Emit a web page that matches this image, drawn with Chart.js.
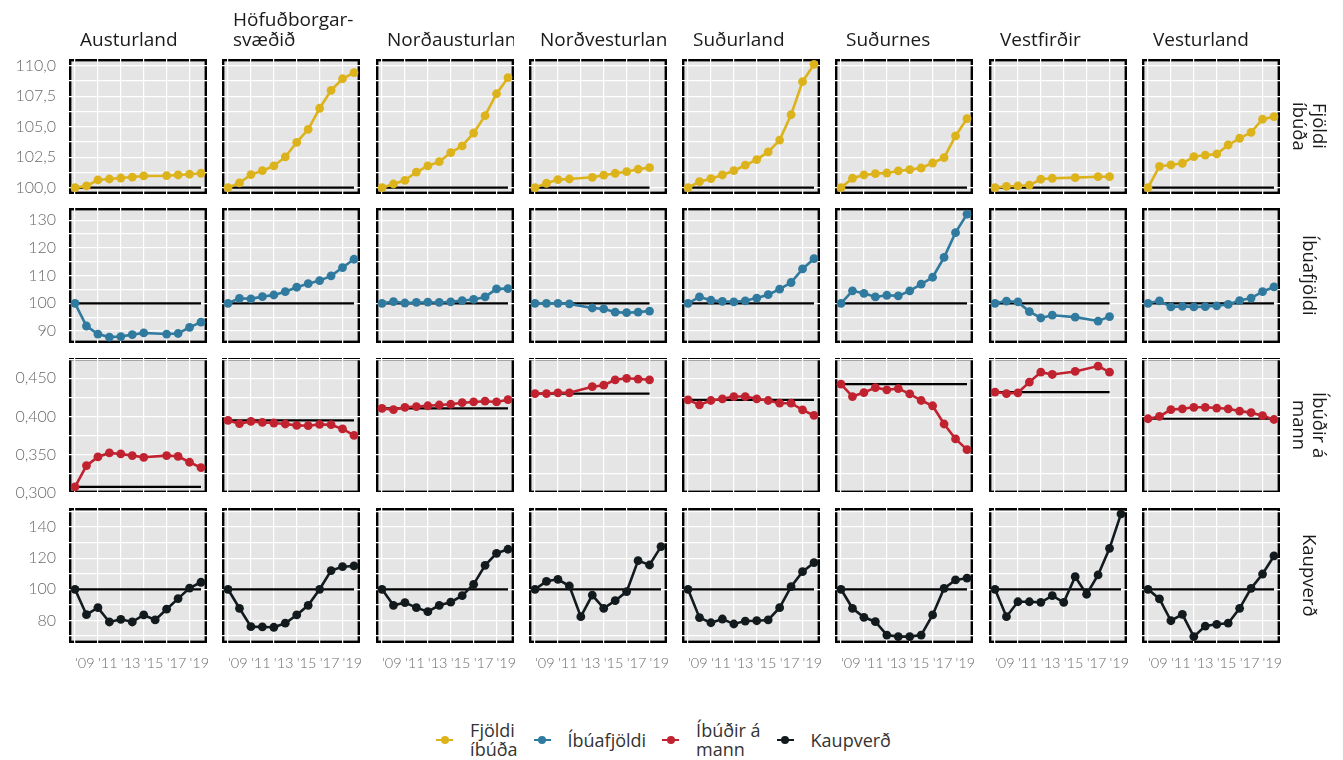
<!DOCTYPE html>
<html>
<head>
<meta charset="utf-8">
<script src="https://cdn.jsdelivr.net/npm/chart.js@4.4.1/dist/chart.umd.min.js"></script>
<style>
  body { margin: 0; background: #fff; }
  #wrap { position: relative; width: 1343px; height: 760px; overflow: hidden; font-family: 'Open Sans', sans-serif; }
  canvas { position: absolute; }
  .strip { position: absolute; top: 0; height: 49px; box-sizing: border-box; padding-left: 11px;
           display: flex; align-items: flex-end; overflow: hidden; white-space: pre;
           font-size: 19px; line-height: 19.5px; color: #1a1a1a; }
  .rowlab { position: absolute; left: 1287px; width: 46px; display: flex; align-items: center; justify-content: center; }
  .rowlab span { writing-mode: vertical-rl; white-space: pre; font-size: 18.5px; line-height: 19.5px; color: #1a1a1a; text-align: center; }
  #legend { position: absolute; top: 721px; left: -8px; width: 1343px; display: flex; justify-content: center; align-items: center; }
  .item { display: flex; align-items: center; margin: 0 8px; }
  .mk { display: inline-block; width: 17px; height: 2.5px; position: relative; margin-right: 17px; }
  .mk i { position: absolute; left: 4.5px; top: -3px; width: 8px; height: 8px; border-radius: 50%; }
  .lt { white-space: pre; font-size: 18px; line-height: 19px; color: #333; }
</style>
</head>
<body>
<div id="wrap"></div>
<script>
// ---- data ----
const years = [2009, 2010, 2011, 2012, 2013, 2014, 2015, 2016, 2017, 2018, 2019, 2020];
const regionTitles = ['Austurland', 'Höfuðborgar-\nsvæðið', 'Norðausturland', 'Norðvesturland',
                      'Suðurland', 'Suðurnes', 'Vestfirðir', 'Vesturland'];
const measureLabels = ['Fjöldi\níbúða', 'Íbúafjöldi', 'Íbúðir á\nmann', 'Kaupverð'];
const measureColors = ['#DDB31C', '#2F7A9E', '#C1222F', '#121A1D'];

// one row per region, one value per year (null = no value that year)
const fjoldiIbuda = [
  [100, 100.14, 100.63, 100.71, 100.79, 100.87, 100.96, null, 100.98, 101.04, 101.1, 101.18],
  [100, 100.39, 101.07, 101.39, 101.78, 102.52, 103.72, 104.78, 106.51, 107.98, 108.93, 109.43],
  [100, 100.3, 100.6, 101.28, 101.78, 102.13, 102.87, 103.42, 104.48, 105.9, 107.7, 109.02],
  [100, 100.36, 100.66, 100.71, null, 100.85, 101.02, 101.18, 101.31, 101.51, 101.64, null],
  [100, 100.49, 100.74, 101.04, 101.39, 101.84, 102.3, 102.93, 103.9, 105.98, 108.69, 110.11],
  [100, 100.77, 101.04, 101.15, 101.2, 101.37, 101.48, 101.61, 102.02, 102.46, 104.24, 105.66],
  [100, 100.11, 100.14, 100.2, 100.69, 100.77, null, 100.82, null, 100.9, 100.9, null],
  [100, 101.75, 101.86, 102.0, 102.54, 102.66, 102.76, 103.5, 104.05, 104.54, 105.61, 105.82]
];
const ibuafjoldi = [
  [100, 91.8, 88.9, 87.8, 88.0, 88.7, 89.3, null, 88.9, 89.1, 91.3, 93.2],
  [100, 101.8, 101.6, 102.4, 103.0, 104.2, 105.8, 107.1, 108.2, 109.9, 112.9, 115.9],
  [100, 100.6, 100.1, 100.3, 100.4, 100.3, 100.5, 101.0, 101.4, 102.3, 105.2, 105.3],
  [100, 100, 100, 99.8, null, 98.3, 98.0, 96.8, 96.6, 96.8, 97.2, null],
  [100, 102.3, 101.1, 100.7, 100.5, 100.9, 101.9, 103.1, 105.1, 107.5, 112.4, 116.1],
  [100, 104.5, 103.6, 102.3, 102.9, 102.7, 104.5, 106.9, 109.4, 116.6, 125.5, 132.2],
  [100, 100.8, 100.5, 97.0, 94.7, 95.7, null, 95.0, null, 93.6, 95.2, null],
  [100, 100.9, 98.7, 98.9, 98.7, 98.8, 99.1, 99.6, 101.0, 101.9, 104.2, 105.9]
];
const ibudirAMann = [
  [0.3078, 0.3356, 0.347, 0.3522, 0.3509, 0.3487, 0.3465, null, 0.3487, 0.3478, 0.340, 0.333],
  [0.3948, 0.3905, 0.3935, 0.3922, 0.3914, 0.3901, 0.3883, 0.3879, 0.3896, 0.3892, 0.3836, 0.3752],
  [0.4105, 0.409, 0.412, 0.413, 0.414, 0.415, 0.416, 0.418, 0.419, 0.420, 0.419, 0.422],
  [0.430, 0.430, 0.431, 0.431, null, 0.439, 0.441, 0.448, 0.450, 0.449, 0.448, null],
  [0.4218, 0.4153, 0.4209, 0.4231, 0.4261, 0.4261, 0.4231, 0.4209, 0.4174, 0.4174, 0.4087, 0.4013],
  [0.4423, 0.4261, 0.4313, 0.4379, 0.4349, 0.4366, 0.4296, 0.4209, 0.414, 0.3901, 0.3705, 0.3565],
  [0.432, 0.430, 0.431, 0.445, 0.458, 0.455, null, 0.459, null, 0.466, 0.458, null],
  [0.397, 0.400, 0.409, 0.410, 0.412, 0.412, 0.411, 0.410, 0.407, 0.405, 0.401, 0.396]
];
const kaupverd = [
  [100, 83.7, 88.2, 79.0, 80.7, 79.0, 83.5, 80.3, 87.2, 94.0, 100.8, 104.5],
  [100, 87.8, 76.0, 75.8, 75.6, 78.2, 83.5, 89.7, 100, 112.0, 114.5, 115.0],
  [100, 89.7, 91.4, 88.2, 85.6, 89.7, 91.7, 95.9, 103.2, 115.4, 123.1, 125.7],
  [100, 105.1, 106.4, 102.1, 82.4, 96.3, 87.8, 92.7, 98.5, 118.4, 115.6, 127.4],
  [100, 81.8, 78.5, 80.9, 77.7, 79.6, 79.8, 80.3, 88.2, 101.7, 111.3, 117.1],
  [100, 87.8, 82.0, 79.2, 70.6, 69.6, 69.6, 70.6, 83.5, 100.6, 106.0, 107.1],
  [100, 82.4, 92.0, 92.0, 91.6, 95.9, 91.6, 108.1, 96.8, 109.2, 126.3, 148.4],
  [100, 93.8, 79.8, 83.9, 69.6, 76.4, 77.5, 78.2, 87.8, 100.6, 109.8, 121.4]
];
const rowData = [fjoldiIbuda, ibuafjoldi, ibudirAMann, kaupverd];

// ticks
const xTicks = [2009, 2011, 2013, 2015, 2017, 2019];
const xTickLabels = ["'09", "'11", "'13", "'15", "'17", "'19"];
const yGrid = [
  [100, 101.25, 102.5, 103.75, 105, 106.25, 107.5, 108.75, 110],
  [90, 95, 100, 105, 110, 115, 120, 125, 130],
  [0.300, 0.325, 0.350, 0.375, 0.400, 0.425, 0.450, 0.475],
  [70, 80, 90, 100, 110, 120, 130, 140, 150]
];
const yLabelled = [
  [100, 102.5, 105, 107.5, 110],
  [90, 100, 110, 120, 130],
  [0.300, 0.350, 0.400, 0.450],
  [80, 100, 120, 140]
];
const yDecimals = [1, 0, 3, 0];
const yRange = [[99.48, 110.55], [85.67, 134.4], [0.2997, 0.4766], [65.5, 152.2]];
const xRange = [2008.475, 2020.525];

// ---- layout ----
const PW = 138, PH = 135, PAD = 12, YW = 58, XH = 40;
const panelTop = [59, 208, 358, 508];
const panelLeft = c => Math.round(69 + 153.25 * c);
const yTickFont = { family: 'Lato', size: 16, weight: '300' };
const xTickFont = { family: 'Lato', size: 14.5, weight: '300' };
const tickColor = '#6a6a6a';

const wrap = document.getElementById('wrap');

const panelBox = {
  id: 'panelBox',
  beforeDraw(chart) {
    const { ctx, chartArea: a } = chart;
    ctx.save();
    ctx.fillStyle = '#E5E5E5';
    ctx.fillRect(a.left, a.top, a.width, a.height);
    ctx.strokeStyle = '#000';
    ctx.lineWidth = 2.4;
    ctx.strokeRect(a.left + 1.2, a.top + 1.2, a.width - 2.4, a.height - 2.4);
    ctx.restore();
  }
};

function fmt(v, d) {
  return v.toFixed(d).replace('.', ',');
}

// fix axis sizes so every panel gets the same plot area
function fixSize(s, w, h) {
  if (w !== null) s.width = w;
  if (h !== null) s.height = h;
  s.paddingLeft = 0; s.paddingRight = 0; s.paddingTop = 0; s.paddingBottom = 0;
}

function makePanel(r, c) {
  const yW = c === 0 ? YW : 0;
  const xH = r === 3 ? XH : 0;
  const canvas = document.createElement('canvas');
  canvas.width = PAD + yW + PW + PAD;
  canvas.height = PAD + PH + xH + PAD;
  canvas.style.left = (panelLeft(c) - PAD - yW) + 'px';
  canvas.style.top = (panelTop[r] - PAD) + 'px';
  wrap.appendChild(canvas);

  const vals = rowData[r][c];
  const pts = years.map((yr, i) => ({ x: yr, y: vals[i] })).filter(p => p.y !== null);
  const base = [{ x: pts[0].x, y: pts[0].y }, { x: pts[pts.length - 1].x, y: pts[0].y }];
  const col = measureColors[r];

  const bottom = r === 3;
  const scales = {
    x: {
      type: 'linear', position: 'bottom', min: xRange[0], max: xRange[1],
      afterBuildTicks: s => { s.ticks = xTicks.map(v => ({ value: v })); },
      ticks: {
        display: bottom, autoSkip: false, maxRotation: 0, align: 'start', padding: 12,
        font: xTickFont, color: tickColor, callback: (v, i) => xTickLabels[i]
      },
      grid: { color: '#ffffff', lineWidth: 1.2, drawTicks: false },
      border: { display: false },
      afterFit: s => fixSize(s, null, xH)
    },
    y: {
      type: 'linear', min: yRange[r][0], max: yRange[r][1],
      afterBuildTicks: s => { s.ticks = yGrid[r].map(v => ({ value: v })); },
      ticks: {
        display: c === 0, autoSkip: false, padding: 13, font: yTickFont, color: tickColor,
        callback: v => yLabelled[r].some(t => Math.abs(t - v) < 1e-9) ? fmt(v, yDecimals[r]) : ''
      },
      grid: { color: '#ffffff', lineWidth: 1.2, drawTicks: false },
      border: { display: false },
      afterFit: s => fixSize(s, yW, null)
    }
  };

  new Chart(canvas, {
    type: 'line',
    data: {
      datasets: [
        { data: pts, borderColor: col, backgroundColor: col, borderWidth: 2.6,
          pointRadius: 4.4, pointBorderWidth: 0, pointBackgroundColor: col,
          spanGaps: true, clip: false, tension: 0 },
        { data: base, borderColor: '#000', borderWidth: 2.2, pointRadius: 0, clip: false }
      ]
    },
    options: {
      responsive: false, animation: false, events: [],
      layout: { padding: { left: PAD, right: PAD, top: PAD, bottom: PAD } },
      plugins: { legend: { display: false }, tooltip: { enabled: false } },
      scales
    },
    plugins: [panelBox]
  });
}

for (let r = 0; r < 4; r++) {
  for (let c = 0; c < 8; c++) makePanel(r, c);
}

// column strips
regionTitles.forEach((t, c) => {
  const d = document.createElement('div');
  d.className = 'strip';
  d.style.left = panelLeft(c) + 'px';
  d.style.width = PW + 'px';
  d.textContent = t;
  wrap.appendChild(d);
});

// row strips
measureLabels.forEach((t, r) => {
  const d = document.createElement('div');
  d.className = 'rowlab';
  d.style.top = panelTop[r] + 'px';
  d.style.height = PH + 'px';
  const s = document.createElement('span');
  s.textContent = t;
  d.appendChild(s);
  wrap.appendChild(d);
});

// legend
const legend = document.createElement('div');
legend.id = 'legend';
measureLabels.forEach((t, i) => {
  const it = document.createElement('div');
  it.className = 'item';
  const mk = document.createElement('span');
  mk.className = 'mk';
  mk.style.background = measureColors[i];
  const dot = document.createElement('i');
  dot.style.background = measureColors[i];
  mk.appendChild(dot);
  const lt = document.createElement('span');
  lt.className = 'lt';
  lt.textContent = t;
  it.appendChild(mk);
  it.appendChild(lt);
  legend.appendChild(it);
});
wrap.appendChild(legend);
</script>
</body>
</html>
